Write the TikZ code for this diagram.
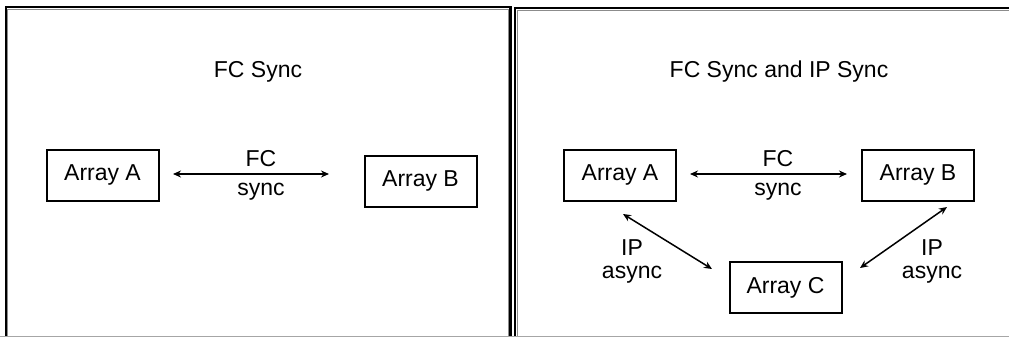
\documentclass[tikz,border=0pt]{standalone}
\usepackage{fontspec}
\setmainfont{Liberation Sans}
\usetikzlibrary{arrows.meta}
\begin{document}
\begin{tikzpicture}[x=1pt,y=-1pt,
  every node/.style={font=\fontsize{23}{27}\selectfont, inner sep=0pt},
  arraybox/.style={draw=black, line width=2pt, minimum width=112pt, minimum height=51pt},
  link/.style={line width=1.5pt, {Stealth[length=8pt,width=7pt]}-{Stealth[length=8pt,width=7pt]}},
  frameedge/.style={line width=2.6pt, black},
  frameinner/.style={line width=0.8pt, black!45},
]
\useasboundingbox (0,0) rectangle (1009,337);

% panel frames: heavy black edges, light inner rule, grey base line
\draw[frameinner] (7.5,336) -- (7.5,9.5) -- (508.5,9.5) -- (508.5,336);
\draw[frameedge] (6,337) -- (6,7) -- (510.5,7) -- (510.5,337);
\draw[frameinner] (517,336) -- (517,10.5) -- (1009,10.5);
\draw[frameedge] (515,337) -- (515,8) -- (1009,8);
\draw[line width=0.8pt, black!35] (0,336) -- (1009,336);

% left panel: FC sync only
\node (t1) at (258,72) {FC Sync};
\node[arraybox] (aL) at (102.5,175) {Array A};
\node[arraybox] (bL) at (420.5,181) {Array B};
\coordinate (pL1) at (173,174);
\coordinate (pL2) at (329,174);
\draw[link] (pL1) -- (pL2);
\node (fcL) at (261,159) {FC};
\node (syL) at (261,192) {sync};

% right panel: FC sync plus IP async
\node (t2) at (779,72) {FC Sync and IP Sync};
\node[arraybox] (aR) at (620,175) {Array A};
\node[arraybox] (bR) at (918,175) {Array B};
\node[arraybox] (cR) at (785.5,287.5) {Array C};
\coordinate (pR1) at (690,174);
\coordinate (pR2) at (847,174);
\draw[link] (pR1) -- (pR2);
\node (fcR) at (778,159) {FC};
\node (syR) at (778,192) {sync};

\coordinate (qA) at (623,214);
\coordinate (qC1) at (712,269);
\draw[link] (qA) -- (qC1);
\coordinate (qB) at (947,207);
\coordinate (qC2) at (860,268);
\draw[link] (qB) -- (qC2);

\node (ip1) at (632,248) {IP};
\node (as1) at (632,275) {async};
\node (ip2) at (932,248) {IP};
\node (as2) at (932,275) {async};
\end{tikzpicture}
\end{document}
